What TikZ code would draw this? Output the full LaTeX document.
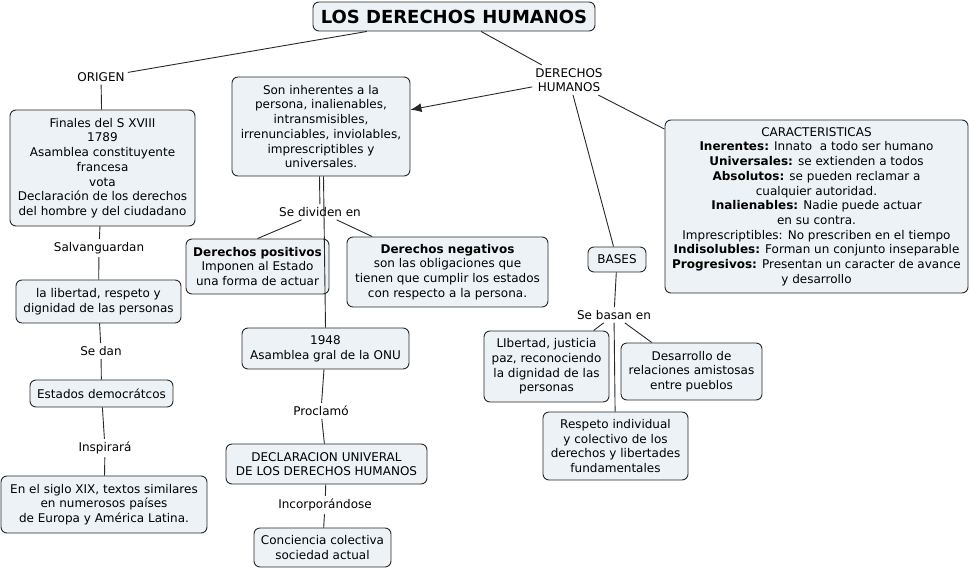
\documentclass[tikz,border=0pt]{standalone}
\usepackage{fontspec}
\setmainfont{DejaVu Sans}
\usetikzlibrary{arrows.meta}
\definecolor{boxfill}{RGB}{236,242,245}
\definecolor{linegray}{RGB}{40,40,40}

\begin{document}
\begin{tikzpicture}[x=1pt, y=-1pt,
    concept/.style={draw=linegray, line width=0.9pt, fill=boxfill, rounded corners=6pt, align=center,
      inner sep=0pt, font=\fontsize{12}{14.7}\selectfont},
    linkword/.style={align=center, inner sep=3pt, font=\fontsize{12}{14.7}\selectfont},
    conn/.style={draw=linegray, line width=0.9pt}]
  % Fix the page to the size of the map
  \useasboundingbox (0,0) rectangle (971,570);

  % Main concept
  \node[concept, minimum width=282, minimum height=29,
    font=\bfseries\fontsize{18}{20}\selectfont] (titulo) at (454,16.5) {LOS DERECHOS HUMANOS};

  % Left branch: origin
  \node[linkword] (origen) at (101,77) {ORIGEN};
  \node[concept, minimum width=185, minimum height=116] (finales) at (102.5,168)
    {Finales del S XVIII\\1789\\Asamblea constituyente\\francesa\\vota\\Declaración de los derechos\\del hombre y del ciudadano};
  \node[linkword] (salvan) at (99,248) {Salvanguardan};
  \node[concept, minimum width=165, minimum height=43] (libertad) at (98.5,301.5)
    {la libertad, respeto y\\dignidad de las personas};
  \node[linkword] (sedan) at (101,351) {Se dan};
  \node[concept, minimum width=143, minimum height=27] (estados) at (101.5,393.5) {Estados democrátcos};
  \node[linkword] (inspira) at (105,448) {Inspirará};
  \node[concept, minimum width=206, minimum height=57] (siglo) at (104,504.5)
    {En el siglo XIX, textos similares\\en numerosos países\\de Europa y América Latina.};

  % Middle branch
  \node[linkword] (derechos) at (569,80) {DERECHOS\\HUMANOS};
  \node[concept, minimum width=178, minimum height=99] (inherentes) at (321,126.5)
    {Son inherentes a la\\persona, inalienables,\\intransmisibles,\\irrenunciables, inviolables,\\imprescriptibles y\\universales.};
  \node[linkword] (dividen) at (320,212) {Se dividen en};
  \node[concept, minimum width=143, minimum height=55] (positivos) at (257.5,266.5)
    {\textbf{Derechos positivos}\\Imponen al Estado\\una forma de actuar};
  \node[concept, minimum width=201, minimum height=70] (negativos) at (447.5,272)
    {\textbf{Derechos negativos}\\son las obligaciones que\\tienen que cumplir los estados\\con respecto a la persona.};
  \node[concept, minimum width=167, minimum height=41] (onu) at (325.5,348.5)
    {1948\\Asamblea gral de la ONU};
  \node[linkword] (proclamo) at (321,411) {Proclamó};
  \node[concept, minimum width=201, minimum height=40] (declaracion) at (326.5,464)
    {DECLARACION UNIVERAL\\DE LOS DERECHOS HUMANOS};
  \node[linkword] (incorpora) at (325,505) {Incorporándose};
  \node[concept, minimum width=137, minimum height=39] (conciencia) at (322.5,547.5)
    {Conciencia colectiva\\sociedad actual};

  % Right branch: characteristics and bases
  \node[concept, minimum width=303, minimum height=173] (caract) at (816.5,206.5)
    {CARACTERISTICAS\\
     \textbf{Inerentes:} Innato\ \ a todo ser humano\\
     \textbf{Universales:} se extienden a todos\\
     \textbf{Absolutos:} se pueden reclamar a\\
     cualquier autoridad.\\
     \textbf{Inalienables:} Nadie puede actuar\\
     en su contra.\\
     Imprescriptibles: No prescriben en el tiempo\\
     \textbf{Indisolubles:} Forman un conjunto inseparable\\
     \textbf{Progresivos:} Presentan un caracter de avance\\
     y desarrollo};
  \node[concept, minimum width=58, minimum height=25] (bases) at (617,259.5) {BASES};
  \node[linkword] (basan) at (614,315) {Se basan en};
  \node[concept, minimum width=125, minimum height=71] (justicia) at (546.5,366.5)
    {LIbertad, justicia\\paz, reconociendo\\la dignidad de las\\personas};
  \node[concept, minimum width=141, minimum height=57] (amistosas) at (691.5,371.5)
    {Desarrollo de\\relaciones amistosas\\entre pueblos};
  \node[concept, minimum width=145, minimum height=68] (respeto) at (615.5,446)
    {Respeto individual\\y colectivo de los\\derechos y libertades\\fundamentales};

  % Connectors
  \draw[conn] (titulo) -- (origen);
  \draw[conn] (origen) -- (finales);
  \draw[conn] (finales) -- (salvan);
  \draw[conn] (salvan) -- (libertad);
  \draw[conn] (libertad) -- (sedan);
  \draw[conn] (sedan) -- (estados);
  \draw[conn] (estados) -- (inspira);
  \draw[conn] (inspira) -- (siglo);

  \draw[conn] (titulo) -- (derechos);
  \draw[conn, -{Latex[length=11pt,width=9pt]}] (derechos) -- (inherentes);
  \draw[conn] ([xshift=-1.5pt]inherentes.south) -- (dividen);
  \draw[conn] (dividen) -- (positivos.north);
  \draw[conn] (dividen) -- (negativos);
  \draw[conn] ([xshift=2.5pt]inherentes.south) -- (onu.north);
  \draw[conn] (onu) -- (proclamo);
  \draw[conn] (proclamo) -- (declaracion);
  \draw[conn] (declaracion) -- (incorpora);
  \draw[conn] (incorpora) -- (conciencia);

  \draw[conn] (derechos) -- (caract);
  \draw[conn] (derechos) -- (bases);
  \draw[conn] (bases) -- (basan);
  \draw[conn] (basan) -- (justicia);
  \draw[conn] (basan) -- (amistosas);
  \draw[conn] (basan) -- (respeto);
\end{tikzpicture}
\end{document}
